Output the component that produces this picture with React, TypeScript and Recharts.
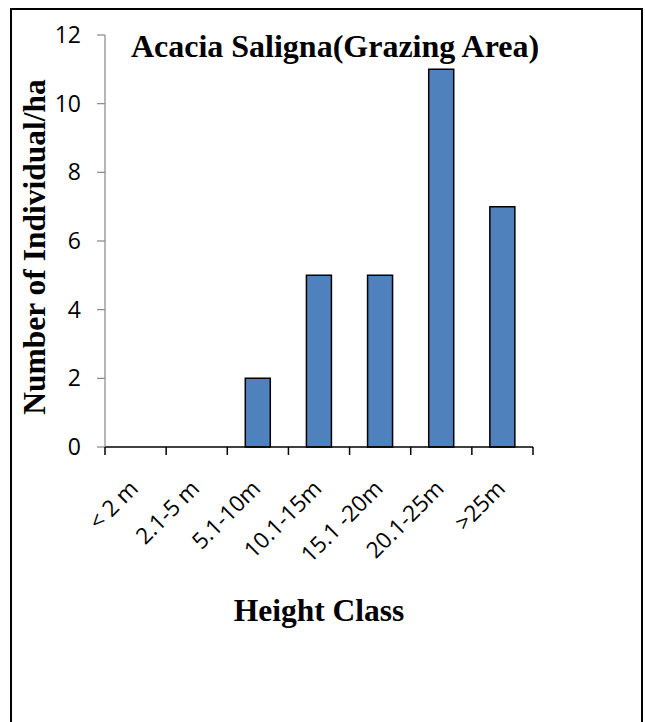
import React from 'react';
import { Bar, BarChart, XAxis, YAxis } from 'recharts';

// height classes and stem counts per hectare
const heightClasses = ['< 2 m', '2.1-5 m', '5.1-10m', '10.1-15m', '15.1 -20m', '20.1-25m', '>25m'];
const individualsPerHa = [0, 0, 2, 5, 5, 11, 7];
const yTicks = [0, 2, 4, 6, 8, 10, 12];

const chartData = heightClasses.map((name, i) => ({
  name,
  count: individualsPerHa[i],
}));

const TICK_FONT = '"Open Sans", "Liberation Sans", sans-serif';
const TITLE_FONT = '"Liberation Serif", "Times New Roman", serif';

// category label rotated 45deg, with Excel-style tick marks on the band edges
const HeightTick = (props: any) => {
  const { x, y, payload, index } = props;
  const half = payload.offset || 0;
  const axisY = y - 8;
  const lastIndex = heightClasses.length - 1;
  const tx = x + 4;
  const ty = y + 35;
  return (
    <g>
      <line x1={x - half} x2={x - half} y1={axisY} y2={axisY + 8} stroke='#000' strokeWidth={1.5} />
      {index === lastIndex && (
        <line x1={x + half} x2={x + half} y1={axisY} y2={axisY + 8} stroke='#000' strokeWidth={1.5} />
      )}
      <text
        x={tx}
        y={ty}
        transform={`rotate(-45 ${tx} ${ty})`}
        textAnchor='end'
        fontFamily={TICK_FONT}
        fontSize={22.5}
        fill='#000'
      >
        {payload.value}
      </text>
    </g>
  );
};

export default function App() {
  return (
    <div
      style={{
        position: 'fixed',
        left: 0,
        top: 0,
        width: 645,
        height: 722,
        overflow: 'hidden',
        background: '#fff',
      }}
    >
      <div
        style={{
          position: 'absolute',
          left: 10,
          top: 8,
          width: 633,
          height: 800,
          border: '2px solid #000',
          boxSizing: 'border-box',
        }}
      />
      <div style={{ position: 'absolute', left: 0, top: 0 }}>
        <BarChart
          width={645}
          height={722}
          data={chartData}
          margin={{ top: 35, right: 112, bottom: 0, left: 0 }}
        >
          <XAxis
            dataKey='name'
            height={275}
            axisLine={{ stroke: '#000', strokeWidth: 1.5 }}
            tickLine={false}
            tickSize={8}
            tickMargin={0}
            interval={0}
            tick={<HeightTick />}
          />
          <YAxis
            width={105}
            domain={[0, 12]}
            ticks={yTicks}
            interval={0}
            axisLine={{ stroke: '#868686', strokeWidth: 1.2 }}
            tickLine={{ stroke: '#868686', strokeWidth: 1.2 }}
            tickSize={8}
            tickMargin={16}
            tick={{ fill: '#000', fontSize: 23, fontFamily: TICK_FONT }}
          />
          <Bar
            dataKey='count'
            barSize={25}
            fill='#4F81BD'
            stroke='#000'
            strokeWidth={1.5}
            isAnimationActive={false}
          />
        </BarChart>
      </div>
      <svg
        width={645}
        height={722}
        style={{ position: 'absolute', left: 0, top: 0, pointerEvents: 'none' }}
      >
        <text
          x={335}
          y={57}
          textAnchor='middle'
          fontFamily={TITLE_FONT}
          fontWeight='bold'
          fontSize={32}
          fill='#000'
        >
          Acacia Saligna(Grazing Area)
        </text>
        <text
          x={319}
          y={621}
          textAnchor='middle'
          fontFamily={TITLE_FONT}
          fontWeight='bold'
          fontSize={31.5}
          fill='#000'
        >
          Height Class
        </text>
        <text
          transform='translate(45 247) rotate(-90)'
          textAnchor='middle'
          fontFamily={TITLE_FONT}
          fontWeight='bold'
          fontSize={31.5}
          fill='#000'
        >
          Number of Individual/ha
        </text>
      </svg>
    </div>
  );
}
